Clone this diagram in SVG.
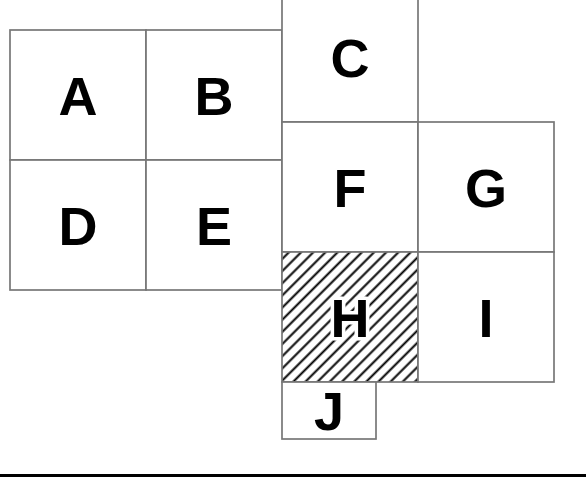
<svg xmlns="http://www.w3.org/2000/svg" width="586" height="477" viewBox="0 0 586 477">
  <style>
    .box { fill: #ffffff; stroke: #777777; stroke-width: 1.7; }
    .lbl { font-family: "Liberation Sans", Arial, sans-serif; font-weight: bold; font-size: 54px; fill: #000; text-anchor: middle; dominant-baseline: central; }
    .halo { stroke: #ffffff; stroke-width: 7; paint-order: stroke; stroke-linejoin: round; }
  </style>
  <defs>
    <pattern id="hatch" patternUnits="userSpaceOnUse" width="8.6" height="8.6" patternTransform="rotate(45)">
      <rect width="8.6" height="8.6" fill="#ffffff"/>
      <line x1="4.3" y1="0" x2="4.3" y2="8.6" stroke="#000" stroke-width="2"/>
    </pattern>
  </defs>
  <rect width="586" height="477" fill="#ffffff"/>
  <g id="A"><rect class="box" x="10" y="30" width="136" height="130"/><text class="lbl" x="78" y="96">A</text></g>
  <g id="B"><rect class="box" x="146" y="30" width="136" height="130"/><text class="lbl" x="214" y="96">B</text></g>
  <g id="D"><rect class="box" x="10" y="160" width="136" height="130"/><text class="lbl" x="78" y="226">D</text></g>
  <g id="E"><rect class="box" x="146" y="160" width="136" height="130"/><text class="lbl" x="214" y="226">E</text></g>
  <g id="C"><rect class="box" x="282" y="-8" width="136" height="130"/><text class="lbl" x="350" y="58">C</text></g>
  <g id="F"><rect class="box" x="282" y="122" width="136" height="130"/><text class="lbl" x="350" y="188">F</text></g>
  <g id="G"><rect class="box" x="418" y="122" width="136" height="130"/><text class="lbl" x="486" y="188">G</text></g>
  <g id="H"><rect class="box" x="282" y="252" width="136" height="130" style="fill:url(#hatch)"/><text class="lbl halo" x="350" y="318">H</text></g>
  <g id="I"><rect class="box" x="418" y="252" width="136" height="130"/><text class="lbl" x="486" y="318">I</text></g>
  <g id="J"><rect class="box" x="282" y="382" width="94" height="57"/><text class="lbl" x="329" y="411">J</text></g>
  <g id="connectors"></g>
  <line x1="0" y1="475.5" x2="586" y2="475.5" stroke="#000" stroke-width="3"/>
</svg>
